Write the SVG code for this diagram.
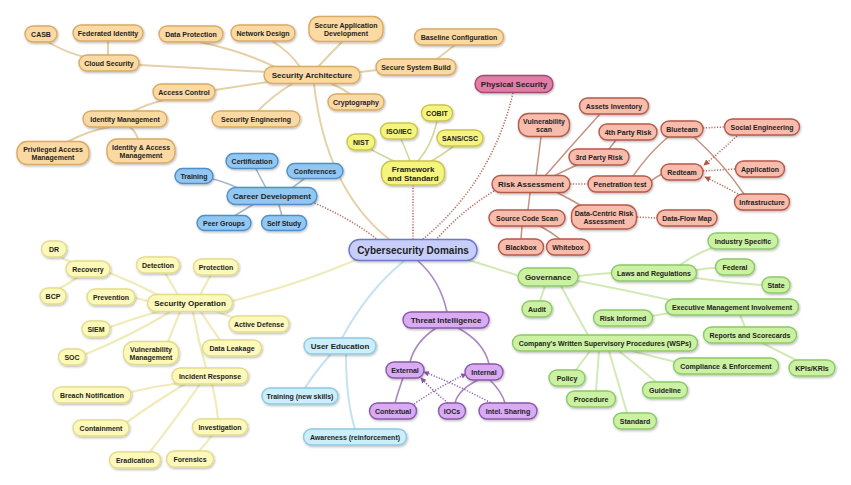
<svg xmlns="http://www.w3.org/2000/svg" width="851" height="485" viewBox="0 0 851 485">
<defs>
<filter id="sh" x="-20%" y="-30%" width="140%" height="170%">
<feDropShadow dx="0.8" dy="1.2" stdDeviation="0.8" flood-color="#000" flood-opacity="0.28"/>
</filter>
<marker id="arR" viewBox="0 0 8 8" refX="7" refY="4" markerWidth="4" markerHeight="4" orient="auto">
<path d="M0,0 L8,4 L0,8 z" fill="#b0584a"/>
</marker>
<marker id="arP" viewBox="0 0 8 8" refX="7" refY="4" markerWidth="4" markerHeight="4" orient="auto">
<path d="M0,0 L8,4 L0,8 z" fill="#8a5aa8"/>
</marker>
</defs>
<style>
text{font-family:"Liberation Sans",Arial,Helvetica,sans-serif;font-weight:bold;font-size:7px;fill:#1e1e1e;text-anchor:middle}
text.l1{font-size:8px}
text.c{font-size:10px}
rect{stroke-width:1.4;filter:url(#sh)}
.or rect{fill:#fbd9a3;stroke:#d9ab66}
.bl rect{fill:#92c7f2;stroke:#4f8ec8}
.ye rect{fill:#f5f47c;stroke:#c9c64c}
.pk rect{fill:#e27da8;stroke:#a8476f}
.sa rect{fill:#f7bcab;stroke:#b65a4a}
.ce rect{fill:#c7cefa;stroke:#6c79c9}
.gr rect{fill:#cbf1a2;stroke:#8ec96b}
.pu rect{fill:#d8abf2;stroke:#8a5aa8}
.lb rect{fill:#cbeefa;stroke:#8ccbe2}
.py rect{fill:#fcf9bb;stroke:#e2dd8c}
#edges path{fill:none;stroke-linecap:round}
#edges path.esd,#edges path.ecd,#edges path.epd{stroke-linecap:butt}
.eor{stroke:#e6d0a6;stroke-width:2}
.ebl{stroke:#a4b6c8;stroke-width:1.6}
.eye{stroke:#d6d69a;stroke-width:1.6}
.esa{stroke:#c6927f;stroke-width:1.5}
.esd{stroke:#b8685a;stroke-width:1.5;stroke-dasharray:1.2 1.6}
.ecd{stroke:#b86a5c;stroke-width:1.6;stroke-dasharray:1.2 1.6}
.epk{stroke:#b98484;stroke-width:1.6}
.egr{stroke:#d2eab6;stroke-width:2}
.epu{stroke:#a887c2;stroke-width:1.6}
.epd{stroke:#8a5aa8;stroke-width:1.4;stroke-dasharray:1.2 1.6}
.elb{stroke:#c2e3ef;stroke-width:2}
.epy{stroke:#f0ebb9;stroke-width:2.2}
</style>
<rect x="0" y="0" width="851" height="485" fill="#ffffff" style="filter:none;stroke:none"/>
<g id="edges">
<path class="eor" d="M314 84 Q326 190 390 240"/>
<path class="ecd" d="M413 185 L413 240"/>
<path class="ecd" d="M513 93 Q492 182 422 240"/>
<path class="ecd" d="M494 191 Q460 212 436 240"/>
<path class="ecd" d="M312 202 Q350 218 378 240"/>
<path class="epy" d="M232 301 Q300 284 358 259"/>
<path class="elb" d="M342 338 Q368 290 404 261"/>
<path class="epu" d="M418 261 Q440 280 447 312"/>
<path class="egr" d="M468 260 Q495 268 519 276"/>
<path class="eor" d="M139 65 Q200 68 265 72"/>
<path class="eor" d="M48 42 Q65 52 84 57"/>
<path class="eor" d="M108 41 L108 55"/>
<path class="eor" d="M200 42 Q245 52 275 67"/>
<path class="eor" d="M272 41 Q290 52 300 67"/>
<path class="eor" d="M342 42 Q328 56 318 67"/>
<path class="eor" d="M360 72 L377 70"/>
<path class="eor" d="M455 45 L437 59"/>
<path class="eor" d="M350 94 Q342 88 332 84"/>
<path class="eor" d="M215 90 Q240 86 268 82"/>
<path class="eor" d="M258 111 Q272 96 292 84"/>
<path class="eor" d="M133 111 Q148 104 163 100"/>
<path class="eor" d="M67 142 Q90 130 110 127"/>
<path class="eor" d="M138 139 Q136 132 130 127"/>
<path class="ebl" d="M256 169 L266 188"/>
<path class="ebl" d="M304 179 L292 188"/>
<path class="ebl" d="M213 179 Q228 183 240 189"/>
<path class="ebl" d="M234 216 L254 204"/>
<path class="ebl" d="M282 216 L279 205"/>
<path class="eye" d="M370 149 Q385 157 396 162"/>
<path class="eye" d="M401 139 Q406 150 410 161"/>
<path class="eye" d="M437 121 Q432 145 418 161"/>
<path class="eye" d="M454 146 Q442 155 430 162"/>
<path class="esa" d="M541 137 L536 176"/>
<path class="esa" d="M600 114 Q572 145 545 176"/>
<path class="esa" d="M579 164 Q566 170 554 176"/>
<path class="esa" d="M616 140 L609 149"/>
<path class="esd" d="M570 184 L588 184"/>
<path class="esa" d="M530 193 L528 210"/>
<path class="esa" d="M556 192 Q568 198 580 205"/>
<path class="esa" d="M522 226 L521 239"/>
<path class="esa" d="M540 226 Q551 232 560 239"/>
<path class="esd" d="M637 217 L657 218"/>
<path class="esa" d="M633 176 Q650 152 668 137"/>
<path class="esa" d="M651 181 Q656 177 662 174"/>
<path class="esd" d="M703 128 L724 127"/>
<path class="esd" d="M703 171 L735 169"/>
<path class="esa" d="M694 137 Q722 162 744 194"/>
<path class="esd" d="M737 136 Q720 152 704 165" marker-end="url(#arR)"/>
<path class="esd" d="M738 194 Q720 184 705 177" marker-end="url(#arR)"/>
<path class="egr" d="M545 286 L540 301"/>
<path class="egr" d="M578 276 Q595 274 612 273"/>
<path class="egr" d="M680 265 Q695 254 712 248"/>
<path class="egr" d="M697 270 Q706 268 716 268"/>
<path class="egr" d="M696 278 Q730 283 762 285"/>
<path class="egr" d="M578 281 Q625 290 670 300"/>
<path class="egr" d="M653 316 Q662 314 670 313"/>
<path class="egr" d="M740 315 L745 327"/>
<path class="egr" d="M762 343 Q780 352 796 360"/>
<path class="egr" d="M561 286 Q575 312 588 335"/>
<path class="egr" d="M590 351 L576 370"/>
<path class="egr" d="M599 351 L596 391"/>
<path class="egr" d="M609 351 L627 413"/>
<path class="egr" d="M619 351 Q640 368 656 382"/>
<path class="egr" d="M632 351 Q655 357 676 362"/>
<path class="epu" d="M436 328 Q415 342 410 362"/>
<path class="epu" d="M458 328 Q484 342 489 364"/>
<path class="epu" d="M403 378 Q398 392 395 403"/>
<path class="epu" d="M478 380 Q458 390 455 403"/>
<path class="epu" d="M490 380 Q502 392 505 403"/>
<path class="epd" d="M414 404 Q440 386 466 374" marker-end="url(#arP)"/>
<path class="epd" d="M448 403 Q432 390 421 378" marker-end="url(#arP)"/>
<path class="epd" d="M493 404 Q458 385 424 372" marker-end="url(#arP)"/>
<path class="elb" d="M331 354 Q315 372 305 388"/>
<path class="elb" d="M346 354 Q346 400 355 429"/>
<path class="epy" d="M110 273 Q135 283 160 296"/>
<path class="epy" d="M61 257 Q68 262 76 263"/>
<path class="epy" d="M60 288 Q70 283 78 277"/>
<path class="epy" d="M165 273 Q172 284 178 295"/>
<path class="epy" d="M211 275 Q205 285 200 295"/>
<path class="epy" d="M135 298 L148 301"/>
<path class="epy" d="M110 327 Q135 318 160 311"/>
<path class="epy" d="M86 354 Q130 336 170 312"/>
<path class="epy" d="M168 342 Q174 326 180 312"/>
<path class="epy" d="M235 318 Q225 315 215 311"/>
<path class="epy" d="M220 340 Q210 326 201 312"/>
<path class="epy" d="M206 368 Q198 340 193 312"/>
<path class="epy" d="M131 392 Q156 386 180 383"/>
<path class="epy" d="M127 422 Q158 400 185 384"/>
<path class="epy" d="M150 452 Q178 416 200 384"/>
<path class="epy" d="M218 419 Q216 400 212 384"/>
<path class="epy" d="M199 451 Q207 443 212 435"/>
</g>

<g id="n-central" class="ce"><rect x="349" y="239.5" width="128" height="21" rx="10.5"/><text class="c" x="413" y="253.5">Cybersecurity Domains</text></g>

<g id="n-secarch" class="or"><rect x="264" y="66.5" width="96" height="17" rx="8.5"/><text class="l1" x="312" y="78">Security Architecture</text></g>
<g id="n-casb" class="or"><rect x="25" y="26" width="32" height="16" rx="8"/><text x="41" y="36.5">CASB</text></g>
<g id="n-fedid" class="or"><rect x="73" y="25" width="70" height="16" rx="8"/><text x="108" y="35.5">Federated Identity</text></g>
<g id="n-cloud" class="or"><rect x="79" y="55" width="60" height="16" rx="8"/><text x="109" y="65.5">Cloud Security</text></g>
<g id="n-dataprot" class="or"><rect x="159" y="26" width="64" height="16" rx="8"/><text x="191" y="36.5">Data Protection</text></g>
<g id="n-netdesign" class="or"><rect x="231" y="25" width="64" height="16" rx="8"/><text x="263" y="35.5">Network Design</text></g>
<g id="n-secapp" class="or"><rect x="309" y="16.5" width="74" height="25" rx="10"/><text x="346" y="27.5">Secure Application</text><text x="346" y="35.5">Development</text></g>
<g id="n-baseline" class="or"><rect x="414.5" y="29" width="89" height="16" rx="8"/><text x="459" y="39.5">Baseline Configuration</text></g>
<g id="n-secsys" class="or"><rect x="376" y="59" width="80" height="16" rx="8"/><text x="416" y="69.5">Secure System Build</text></g>
<g id="n-crypto" class="or"><rect x="328" y="94" width="56" height="16" rx="8"/><text x="356" y="104.5">Cryptography</text></g>
<g id="n-access" class="or"><rect x="153" y="84" width="62" height="16" rx="8"/><text x="184" y="94.5">Access Control</text></g>
<g id="n-seceng" class="or"><rect x="212" y="111" width="88" height="16" rx="8"/><text x="256" y="121.5">Security Engineering</text></g>
<g id="n-idm" class="or"><rect x="83" y="111" width="84" height="16" rx="8"/><text x="125" y="121.5">Identity Management</text></g>
<g id="n-pam" class="or"><rect x="17" y="141.5" width="72" height="23" rx="10"/><text x="53" y="151.5">Privileged Access</text><text x="53" y="159.5">Management</text></g>
<g id="n-iam" class="or"><rect x="107" y="139" width="68" height="24" rx="10"/><text x="141" y="149.5">Identity &amp; Access</text><text x="141" y="157.5">Management</text></g>

<g id="n-career" class="bl"><rect x="227" y="187.5" width="90" height="17" rx="8.5"/><text class="l1" x="272" y="199">Career Development</text></g>
<g id="n-cert" class="bl"><rect x="226" y="153.5" width="52" height="15" rx="7.5"/><text x="252" y="163.5">Certification</text></g>
<g id="n-conf" class="bl"><rect x="287" y="163.5" width="56" height="15" rx="7.5"/><text x="315" y="173.5">Conferences</text></g>
<g id="n-training" class="bl"><rect x="175" y="168.5" width="38" height="15" rx="7.5"/><text x="194" y="178.5">Training</text></g>
<g id="n-peer" class="bl"><rect x="197" y="215.5" width="54" height="15" rx="7.5"/><text x="224" y="225.5">Peer Groups</text></g>
<g id="n-self" class="bl"><rect x="261.5" y="215.5" width="45" height="15" rx="7.5"/><text x="284" y="225.5">Self Study</text></g>

<g id="n-framework" class="ye"><rect x="381.5" y="161" width="63" height="24" rx="10"/><text class="l1" x="413" y="171.5">Framework</text><text class="l1" x="413" y="180.5">and Standard</text></g>
<g id="n-nist" class="ye"><rect x="347" y="134" width="28" height="16" rx="8"/><text x="361" y="144.5">NIST</text></g>
<g id="n-iso" class="ye"><rect x="380.5" y="123" width="37" height="16" rx="8"/><text x="399" y="133.5">ISO/IEC</text></g>
<g id="n-cobit" class="ye"><rect x="421.5" y="105" width="31" height="16" rx="8"/><text x="437" y="115.5">COBIT</text></g>
<g id="n-sans" class="ye"><rect x="437" y="130" width="46" height="16" rx="8"/><text x="460" y="140.5">SANS/CSC</text></g>

<g id="n-physical" class="pk"><rect x="475" y="75.5" width="78" height="17" rx="8.5"/><text class="l1" x="514" y="87">Physical Security</text></g>

<g id="n-risk" class="sa"><rect x="492" y="175.5" width="78" height="17" rx="8.5"/><text class="l1" x="531" y="187">Risk Assessment</text></g>
<g id="n-vulnscan" class="sa"><rect x="518.5" y="113.5" width="51" height="23" rx="10"/><text x="544" y="123.5">Vulnerability</text><text x="544" y="131.5">scan</text></g>
<g id="n-assets" class="sa"><rect x="579.5" y="98" width="69" height="16" rx="8"/><text x="614" y="108.5">Assets Inventory</text></g>
<g id="n-4th" class="sa"><rect x="599" y="124" width="58" height="16" rx="8"/><text x="628" y="134.5">4th Party Risk</text></g>
<g id="n-3rd" class="sa"><rect x="569" y="149" width="60" height="16" rx="8"/><text x="599" y="159.5">3rd Party Risk</text></g>
<g id="n-pentest" class="sa"><rect x="588" y="176" width="64" height="16" rx="8"/><text x="620" y="186.5">Penetration test</text></g>
<g id="n-scs" class="sa"><rect x="489" y="210" width="76" height="16" rx="8"/><text x="527" y="220.5">Source Code Scan</text></g>
<g id="n-dcra" class="sa"><rect x="571.5" y="205" width="65" height="24" rx="10"/><text x="604" y="215.5">Data-Centric Risk</text><text x="604" y="223.5">Assessment</text></g>
<g id="n-blackbox" class="sa"><rect x="498.5" y="239" width="45" height="16" rx="8"/><text x="521" y="249.5">Blackbox</text></g>
<g id="n-whitebox" class="sa"><rect x="546.5" y="239" width="43" height="16" rx="8"/><text x="568" y="249.5">Whitebox</text></g>
<g id="n-blueteam" class="sa"><rect x="661" y="121" width="42" height="16" rx="8"/><text x="682" y="131.5">Blueteam</text></g>
<g id="n-redteam" class="sa"><rect x="661" y="164" width="42" height="16" rx="8"/><text x="682" y="174.5">Redteam</text></g>
<g id="n-social" class="sa"><rect x="724.5" y="119" width="75" height="16" rx="8"/><text x="762" y="129.5">Social Engineering</text></g>
<g id="n-app" class="sa"><rect x="735.5" y="161" width="49" height="16" rx="8"/><text x="760" y="171.5">Application</text></g>
<g id="n-infra" class="sa"><rect x="734.5" y="194" width="55" height="16" rx="8"/><text x="762" y="204.5">Infrastructure</text></g>
<g id="n-dfm" class="sa"><rect x="657" y="210" width="60" height="16" rx="8"/><text x="687" y="220.5">Data-Flow Map</text></g>

<g id="n-gov" class="gr"><rect x="518" y="268" width="60" height="18" rx="9"/><text class="l1" x="548" y="280">Governance</text></g>
<g id="n-audit" class="gr"><rect x="522" y="301" width="30" height="16" rx="8"/><text x="537" y="311.5">Audit</text></g>
<g id="n-industry" class="gr"><rect x="708" y="233" width="70" height="16" rx="8"/><text x="743" y="243.5">Industry Specific</text></g>
<g id="n-federal" class="gr"><rect x="715.5" y="259" width="39" height="16" rx="8"/><text x="735" y="269.5">Federal</text></g>
<g id="n-laws" class="gr"><rect x="611.5" y="265" width="85" height="16" rx="8"/><text x="654" y="275.5">Laws and Regulations</text></g>
<g id="n-state" class="gr"><rect x="762" y="277" width="28" height="16" rx="8"/><text x="776" y="287.5">State</text></g>
<g id="n-exec" class="gr"><rect x="665.5" y="299" width="133" height="16" rx="8"/><text x="732" y="309.5">Executive Management Involvement</text></g>
<g id="n-riskinf" class="gr"><rect x="593.5" y="310" width="59" height="16" rx="8"/><text x="623" y="320.5">Risk Informed</text></g>
<g id="n-reports" class="gr"><rect x="703.5" y="327" width="93" height="16" rx="8"/><text x="750" y="337.5">Reports and Scorecards</text></g>
<g id="n-wsp" class="gr"><rect x="512.5" y="335" width="185" height="16" rx="8"/><text x="605" y="345.5">Company's Written Supervisory Procedures (WSPs)</text></g>
<g id="n-compliance" class="gr"><rect x="673.5" y="358" width="105" height="16" rx="8"/><text x="726" y="368.5">Compliance &amp; Enforcement</text></g>
<g id="n-kpi" class="gr"><rect x="789" y="360" width="46" height="16" rx="8"/><text x="812" y="370.5">KPIs/KRIs</text></g>
<g id="n-policy" class="gr"><rect x="549" y="370" width="36" height="16" rx="8"/><text x="567" y="380.5">Policy</text></g>
<g id="n-procedure" class="gr"><rect x="566.5" y="391" width="49" height="16" rx="8"/><text x="591" y="401.5">Procedure</text></g>
<g id="n-guideline" class="gr"><rect x="642.5" y="382" width="45" height="16" rx="8"/><text x="665" y="392.5">Guideline</text></g>
<g id="n-standard" class="gr"><rect x="613.5" y="413" width="43" height="16" rx="8"/><text x="635" y="423.5">Standard</text></g>

<g id="n-threat" class="pu"><rect x="403" y="312" width="86" height="16" rx="8"/><text class="l1" x="446" y="323">Threat Intelligence</text></g>
<g id="n-external" class="pu"><rect x="386" y="362" width="38" height="16" rx="8"/><text x="405" y="372.5">External</text></g>
<g id="n-internal" class="pu"><rect x="465" y="364" width="38" height="16" rx="8"/><text x="484" y="374.5">Internal</text></g>
<g id="n-contextual" class="pu"><rect x="369.5" y="403" width="47" height="16" rx="8"/><text x="393" y="413.5">Contextual</text></g>
<g id="n-iocs" class="pu"><rect x="438.5" y="403" width="27" height="16" rx="8"/><text x="452" y="413.5">IOCs</text></g>
<g id="n-intel" class="pu"><rect x="479" y="403" width="58" height="16" rx="8"/><text x="508" y="413.5">Intel. Sharing</text></g>

<g id="n-usered" class="lb"><rect x="304" y="338" width="72" height="16" rx="8"/><text class="l1" x="340" y="349">User Education</text></g>
<g id="n-trainnew" class="lb"><rect x="262" y="388" width="76" height="16" rx="8"/><text x="300" y="398.5">Training (new skills)</text></g>
<g id="n-aware" class="lb"><rect x="303.5" y="429" width="103" height="16" rx="8"/><text x="355" y="439.5">Awareness (reinforcement)</text></g>

<g id="n-secop" class="py"><rect x="147.5" y="294.5" width="85" height="17" rx="8.5"/><text class="l1" x="190" y="306">Security Operation</text></g>
<g id="n-dr" class="py"><rect x="41.5" y="241" width="25" height="16" rx="8"/><text x="54" y="251.5">DR</text></g>
<g id="n-recovery" class="py"><rect x="66" y="261" width="44" height="16" rx="8"/><text x="88" y="271.5">Recovery</text></g>
<g id="n-detection" class="py"><rect x="136.5" y="257" width="43" height="16" rx="8"/><text x="158" y="267.5">Detection</text></g>
<g id="n-protection" class="py"><rect x="193.5" y="259" width="45" height="16" rx="8"/><text x="216" y="269.5">Protection</text></g>
<g id="n-bcp" class="py"><rect x="40" y="288" width="26" height="16" rx="8"/><text x="53" y="298.5">BCP</text></g>
<g id="n-prevention" class="py"><rect x="87" y="289" width="48" height="16" rx="8"/><text x="111" y="299.5">Prevention</text></g>
<g id="n-active" class="py"><rect x="229" y="316" width="60" height="16" rx="8"/><text x="259" y="326.5">Active Defense</text></g>
<g id="n-siem" class="py"><rect x="82" y="321" width="28" height="16" rx="8"/><text x="96" y="331.5">SIEM</text></g>
<g id="n-vulnmgmt" class="py"><rect x="123.5" y="341.5" width="55" height="23" rx="10"/><text x="151" y="351.5">Vulnerability</text><text x="151" y="359.5">Management</text></g>
<g id="n-leakage" class="py"><rect x="202.5" y="340" width="59" height="16" rx="8"/><text x="232" y="350.5">Data Leakage</text></g>
<g id="n-soc" class="py"><rect x="58.5" y="349" width="27" height="16" rx="8"/><text x="72" y="359.5">SOC</text></g>
<g id="n-incident" class="py"><rect x="172" y="368" width="76" height="16" rx="8"/><text x="210" y="378.5">Incident Response</text></g>
<g id="n-breach" class="py"><rect x="53" y="387" width="78" height="16" rx="8"/><text x="92" y="397.5">Breach Notification</text></g>
<g id="n-investigation" class="py"><rect x="192.5" y="419" width="55" height="16" rx="8"/><text x="220" y="429.5">Investigation</text></g>
<g id="n-containment" class="py"><rect x="73" y="420" width="56" height="16" rx="8"/><text x="101" y="430.5">Containment</text></g>
<g id="n-eradication" class="py"><rect x="109.5" y="452" width="51" height="16" rx="8"/><text x="135" y="462.5">Eradication</text></g>
<g id="n-forensics" class="py"><rect x="166.5" y="451" width="47" height="16" rx="8"/><text x="190" y="461.5">Forensics</text></g>
</svg>
